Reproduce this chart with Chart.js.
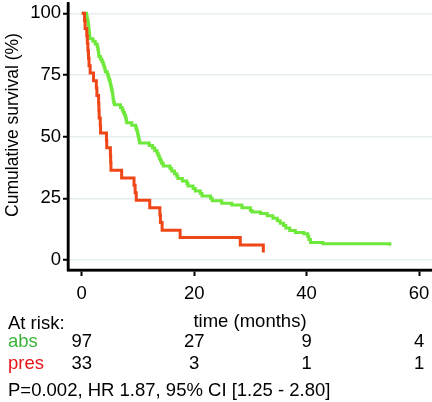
<!DOCTYPE html>
<html>
<head>
<meta charset="utf-8">
<script src="https://cdn.jsdelivr.net/npm/chart.js@4.4.1/dist/chart.umd.min.js"></script>
<style>
  html, body { margin: 0; padding: 0; background: #ffffff; }
  #wrap { position: relative; width: 432px; height: 402px; }
</style>
</head>
<body>
<div id="wrap"><canvas id="c" width="432" height="402"></canvas></div>
<script>
// ---- data ----
const seriesNames = ["abs", "pres"];
const redTime = [0, 0.5, 0.6, 0.9, 1.0, 1.1, 1.2, 1.3, 1.5, 2.1, 2.6, 2.7, 3.0, 3.05, 3.1, 3.3, 3.35, 4.4, 4.45, 5.1, 5.15, 5.2, 7.1, 9.3, 9.5, 9.7, 12.1, 13.9, 14.0, 14.3, 17.5, 28.2, 32.3];
const redSurv = [100, 97.0, 93.9, 90.9, 87.9, 84.8, 81.8, 78.8, 75.8, 72.7, 69.7, 66.7, 63.6, 60.6, 57.6, 54.5, 51.5, 48.5, 45.5, 42.4, 39.4, 36.4, 33.3, 30.3, 27.3, 24.2, 21.2, 18.2, 15.2, 12.1, 9.1, 6.1, 3.0];
const greenTime = [0, 0.85, 0.95, 1.05, 1.15, 1.2, 1.25, 1.3, 1.35, 1.4, 1.45, 2.0, 2.4, 2.75, 2.85, 2.95, 3.0, 3.05, 3.35, 3.6, 3.8, 3.95, 4.1, 4.2, 4.55, 4.7, 4.85, 5.0, 5.1, 5.2, 5.3, 5.4, 5.5, 5.55, 5.6, 5.7, 5.8, 6.9, 7.2, 7.4, 7.6, 7.8, 7.9, 8.0, 8.9, 9.6, 9.75, 9.9, 10.0, 10.1, 10.2, 10.3, 12.0, 12.6, 13.0, 13.4, 13.6, 13.8, 14.0, 14.2, 14.5, 15.7, 16.0, 16.5, 16.9, 17.1, 17.9, 18.7, 18.9, 19.8, 20.2, 21.1, 21.4, 22.9, 23.2, 24.9, 26.7, 28.5, 30.0, 30.3, 31.8, 33.0, 34.0, 34.8, 35.3, 35.9, 36.3, 37.0, 38.0, 39.5, 40.2, 40.4, 40.7, 42.9, 54.7, 54.8];
const greenSurv = [100, 99.0, 97.9, 96.9, 95.9, 94.8, 93.8, 92.8, 91.8, 90.7, 89.7, 88.7, 87.6, 86.6, 85.6, 84.5, 83.5, 82.5, 81.4, 80.4, 79.4, 78.4, 77.3, 76.3, 75.3, 74.2, 73.2, 72.2, 71.1, 70.1, 69.1, 68.0, 67.0, 66.0, 64.9, 63.9, 62.9, 61.8, 60.8, 59.8, 58.8, 57.7, 56.7, 55.7, 54.6, 53.6, 52.6, 51.5, 50.5, 49.5, 48.5, 47.4, 46.4, 45.4, 44.3, 43.3, 42.3, 41.2, 40.2, 39.2, 38.1, 37.1, 36.1, 35.0, 34.0, 33.0, 32.0, 31.0, 30.0, 29.0, 28.0, 27.0, 26.0, 25.0, 24.0, 23.0, 22.3, 21.2, 20.1, 19.5, 18.9, 17.9, 16.9, 15.9, 14.9, 14.0, 13.0, 12.0, 11.2, 10.6, 9.5, 8.3, 7.1, 6.6, 6.6, 5.8];
const xTicks = [0, 20, 40, 60];
const yTicks = [0, 25, 50, 75, 100];
const riskTimes = [0, 20, 40, 60];
const riskAbs = [97, 27, 9, 4];
const riskPres = [33, 3, 1, 1];
const xTitle = "time (months)";
const yTitle = "Cumulative survival (%)";
const riskHeader = "At risk:";
const statsText = "P=0.002, HR 1.87, 95% CI [1.25 - 2.80]";

// ---- styles ----
const FONT = "'Liberation Sans', Arial, sans-serif";
const GREEN_LINE = "#6fe83c";
const RED_LINE = "#ee4616";
const GREEN_TEXT = "#3cb43c";
const RED_TEXT = "#e8141c";

function pts(t, s) { return t.map((v, i) => ({ x: v, y: s[i] })); }

const annot = {
  id: 'annot',
  afterDraw(chart) {
    const ctx = chart.ctx;
    const xs = chart.scales.x;
    const ca = chart.chartArea;
    ctx.save();
    // axis lines
    ctx.strokeStyle = '#000';
    ctx.lineWidth = 2.5;
    ctx.beginPath();
    ctx.moveTo(ca.left, ca.top);
    ctx.lineTo(ca.left, ca.bottom);
    ctx.lineTo(ca.right, ca.bottom);
    ctx.stroke();

    ctx.fillStyle = '#000';
    // y title
    ctx.font = "17.5px " + FONT;
    ctx.textAlign = 'center';
    ctx.textBaseline = 'middle';
    ctx.save();
    ctx.translate(13, 125);
    ctx.rotate(-Math.PI / 2);
    ctx.fillText(yTitle, 0, 0);
    ctx.restore();
    // x title
    ctx.font = "18.5px " + FONT;
    ctx.fillText(xTitle, (ca.left + ca.right) / 2, 322);
    // risk table
    ctx.textAlign = 'left';
    ctx.fillText(riskHeader, 8, 324);
    ctx.fillStyle = GREEN_TEXT;
    ctx.fillText(seriesNames[0], 8, 342);
    ctx.fillStyle = RED_TEXT;
    ctx.fillText(seriesNames[1], 8, 364);
    ctx.fillStyle = '#000';
    ctx.textAlign = 'center';
    riskTimes.forEach((t, i) => {
      const px = xs.getPixelForValue(t);
      ctx.fillText(String(riskAbs[i]), px, 342);
      ctx.fillText(String(riskPres[i]), px, 364);
    });
    ctx.textAlign = 'left';
    ctx.fillText(statsText, 8, 391);
    ctx.restore();
  }
};

new Chart(document.getElementById('c'), {
  type: 'line',
  data: {
    datasets: [
      { label: seriesNames[1], data: pts(redTime, redSurv), borderColor: RED_LINE, borderWidth: 3, stepped: true, pointRadius: 0, fill: false },
      { label: seriesNames[0], data: pts(greenTime, greenSurv), borderColor: GREEN_LINE, borderWidth: 3, stepped: true, pointRadius: 0, fill: false }
    ]
  },
  options: {
    responsive: false,
    animation: false,
    devicePixelRatio: 1,
    layout: { padding: { top: 3, left: 0, right: 0, bottom: 0 } },
    plugins: { legend: { display: false }, tooltip: { enabled: false } },
    scales: {
      x: {
        type: 'linear',
        min: -2.44, max: 62.3,
        afterBuildTicks(s) { s.ticks = xTicks.map(v => ({ value: v })); },
        afterFit(s) { s.height = 132; s.paddingLeft = 0; s.paddingRight = 0; },
        grid: { drawOnChartArea: false, drawTicks: true, tickLength: 6, tickColor: '#000', tickWidth: 2 },
        border: { display: true, color: '#000', width: 2.5 },
        ticks: { font: { family: FONT, size: 18.5 }, color: '#000', padding: 7, maxRotation: 0 }
      },
      y: {
        type: 'linear',
        min: -4.05, max: 104.2,
        afterBuildTicks(s) { s.ticks = yTicks.map(v => ({ value: v })); },
        afterFit(s) { s.width = 68; s.paddingTop = 0; s.paddingBottom = 0; },
        grid: { color: '#e6eef0', lineWidth: 1.5, drawTicks: true, tickLength: 5, tickColor: '#000', tickWidth: 2 },
        border: { display: true, color: '#000', width: 2.5 },
        ticks: { font: { family: FONT, size: 18.5 }, color: '#000', padding: 2 }
      }
    }
  },
  plugins: [annot]
});
</script>
</body>
</html>
